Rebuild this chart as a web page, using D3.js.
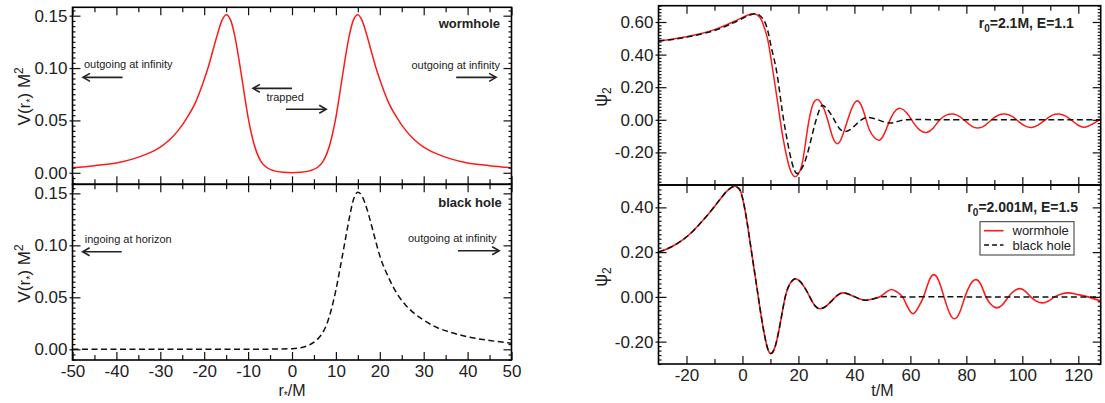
<!DOCTYPE html>
<html><head><meta charset="utf-8">
<script src="https://cdn.jsdelivr.net/npm/d3@7/dist/d3.min.js"></script>
<style>
body{margin:0;background:#fff;}
svg{display:block;font-family:"Liberation Sans",Arial,Helvetica,sans-serif;}
</style></head><body>
<svg id="c" width="1105" height="403"></svg>
<script>
// ---------------- DATA ----------------
// Potential V(r*) M^2 : wormhole (two peaks) and black hole (one peak)
const rWH = [-50,-45,-40,-36,-33,-30,-28,-26,-24,-22,-20,-19,-18,-17,-16,-15,-14,-13,-12,-11,-10,-9,-8,-7,-6,-4,-2,0,2,4,6,7,8,9,10,11,12,13,14,15,16,17,18,19,20,22,24,26,28,30,33,36,40,45,50];
const vWH = [0.0048,0.0068,0.0093,0.0135,0.018,0.0245,0.031,0.040,0.052,0.067,0.089,0.102,0.117,0.132,0.145,0.151,0.146,0.130,0.106,0.079,0.053,0.033,0.019,0.0105,0.0058,0.0018,0.0004,0,0.0004,0.0018,0.0058,0.0105,0.019,0.033,0.053,0.079,0.106,0.130,0.146,0.151,0.145,0.132,0.117,0.102,0.089,0.067,0.052,0.040,0.031,0.0245,0.018,0.0135,0.0093,0.0068,0.0048];
const rBH = [-50,-30,-15,-8,-4,0,2,4,5,6,7,8,9,10,11,12,13,14,15,16,17,18,19,20,22,24,26,28,30,33,36,40,45,50];
const vBH = [0,0,0,0.00005,0.0002,0.0006,0.0015,0.0042,0.0068,0.0105,0.016,0.025,0.039,0.057,0.079,0.102,0.125,0.144,0.151,0.147,0.136,0.121,0.105,0.090,0.069,0.053,0.042,0.034,0.028,0.021,0.0165,0.012,0.0085,0.0058];

// Waveforms psi_2(t/M), r0=2.1M, E=1.1
const tTopWH = [-30,-25,-20,-15,-10,-6,-3,0,2,3.8,5.2,6.8,8,9.2,10.9,12.7,14.5,16.3,17.5,18.7,19.9,21.1,22.3,23.5,24.8,25.8,26.8,28,30,32.2,34.2,36,37.8,39.6,41.5,43.5,45.3,47.2,49.2,51.2,53,54.8,56.5,58.8,61.2,63.5,65.8,68.2,70.5,73,75.3,77.6,79.8,82,84.2,86.6,89,91.4,93.8,96.2,98.5,100.9,103.3,105.6,108,110.6,113.2,115.5,117.8,120.1,122.4,125.2,128];
const psiTopWH = [0.484,0.494,0.510,0.528,0.553,0.580,0.603,0.628,0.643,0.650,0.643,0.612,0.555,0.478,0.297,0.092,-0.113,-0.262,-0.325,-0.349,-0.335,-0.285,-0.170,-0.030,0.075,0.115,0.125,0.105,0.025,-0.105,-0.145,-0.085,0.010,0.090,0.113,0.040,-0.060,-0.110,-0.123,-0.065,0.010,0.058,0.070,0.040,-0.020,-0.065,-0.078,-0.050,0.000,0.030,0.035,0.020,-0.010,-0.040,-0.050,-0.035,0.000,0.028,0.035,0.022,-0.008,-0.037,-0.047,-0.033,-0.003,0.027,0.035,0.022,-0.006,-0.035,-0.045,-0.025,0.004];
const tTopBH = [-30,-25,-20,-15,-10,-6,-3,0,2,4.4,6,7.5,9,10.5,12.2,13.9,15,16.3,17.8,19.3,20.8,22.3,23.8,25.2,26.5,27.7,28.8,30.5,32.4,34.5,36.6,38.5,40.5,42.5,44.9,48.5,52.7,56.5,62,70,90,128];
const psiTopBH = [0.484,0.493,0.507,0.525,0.548,0.574,0.597,0.622,0.638,0.650,0.643,0.615,0.550,0.430,0.297,0.092,-0.030,-0.154,-0.270,-0.328,-0.310,-0.257,-0.170,-0.072,0.010,0.070,0.088,0.060,0.012,-0.050,-0.072,-0.060,-0.030,0.000,0.015,0.000,-0.020,-0.005,0.002,0,0,0];

// Waveforms psi_2(t/M), r0=2.001M, E=1.5 (common early part, then separate tails)
const tBotCommon = [-30,-27,-24,-21,-18,-15,-12,-9,-7,-5,-3,-1.5,-0.3,1.4,3.2,5,6.8,8.6,10,11.2,12.2,13.4,14.5,15.7,16.9,18,19.3,20.8,22.3,23.8,25.2,26.5,27.9,29.8,31.8,33.8,35.8,38,40.2,42.3,44.3,47];
const psiBotCommon = [0.200,0.214,0.233,0.258,0.290,0.330,0.373,0.420,0.452,0.479,0.494,0.487,0.458,0.353,0.204,0.055,-0.094,-0.213,-0.253,-0.238,-0.198,-0.125,-0.049,0.020,0.057,0.075,0.080,0.066,0.040,0.006,-0.027,-0.047,-0.053,-0.042,-0.019,0.006,0.018,0.012,0.000,-0.011,-0.015,-0.008];
const tBotWHTail = [49.3,51.5,53.3,55.2,57.2,59,61,62.9,64.7,66.6,68.4,70.2,72,73.9,75.7,77.6,79.5,81.4,83.3,85.2,87,88.9,90.8,92.9,95,97,99.1,101,103,105,107.1,109.3,111.5,114,116.4,119.2,123.5,128];
const psiBotWHTail = [0.002,0.022,0.033,0.022,0.000,-0.045,-0.075,-0.045,0.000,0.070,0.0995,0.070,0.000,-0.070,-0.098,-0.070,0.000,0.055,0.077,0.055,0.000,-0.035,-0.049,-0.035,0.000,0.026,0.037,0.026,0.000,-0.019,-0.027,-0.019,0.000,0.013,0.018,0.012,0.000,-0.019];
const tBotBHTail = [49.5,53,57,62,80,128];
const psiBotBHTail = [0,0.002,-0.001,0,0,0];

const tBotWH = tBotCommon.concat(tBotWHTail), psiBotWH = psiBotCommon.concat(psiBotWHTail);
const tBotBH = tBotCommon.concat(tBotBHTail), psiBotBH = psiBotCommon.concat(psiBotBHTail);

// Tick values
const xMajorPot = [-50,-40,-30,-20,-10,0,10,20,30,40,50];
const xMinorPot = [-45,-35,-25,-15,-5,5,15,25,35,45];
const yMajorPot = [0,0.05,0.10,0.15];
const xMajorWave = [-20,0,20,40,60,80,100,120];
const xMinorWave = [-10,10,30,50,70,90,110];
const yMajorWaveTop = [-0.2,0,0.2,0.4,0.6];
const yMajorWaveBot = [-0.2,0,0.2,0.4];

// ---------------- DRAW ----------------
const svg = d3.select("#c");
const FONT = '"Liberation Sans",Arial,Helvetica,sans-serif';
const RED = "#ff1a1a";

function makePanel(px0, px1, py0, py1, xd, yd, id) {
  const x = d3.scaleLinear().domain(xd).range([px0, px1]);
  const y = d3.scaleLinear().domain(yd).range([py1, py0]);
  svg.append("clipPath").attr("id", id).append("rect")
    .attr("x", px0).attr("y", py0).attr("width", px1 - px0).attr("height", py1 - py0);
  return {x, y, px0, px1, py0, py1, id};
}

function axisG(gen, tx, ty, vals, size, fmt, pad) {
  const g = svg.append("g").attr("transform", `translate(${tx},${ty})`);
  g.call(gen.tickValues(vals).tickSize(size).tickPadding(pad || 3).tickFormat(fmt || (() => "")));
  g.select(".domain").remove();
  g.attr("font-family", FONT).attr("font-size", 17);
  g.selectAll("line").attr("stroke", "#111").attr("stroke-width", 1.2);
  g.selectAll("text").attr("fill", "#222");
  return g;
}

function frameAxes(p, o) {
  const {x, y} = p;
  const minorY = o.yMinor;
  // bottom
  axisG(d3.axisBottom(x), 0, p.py1, o.xMinor, -5);
  axisG(d3.axisBottom(x), 0, p.py1, o.xMajor, -8, o.xLabels ? (d => String(d)) : null, 4.5);
  // top
  axisG(d3.axisTop(x), 0, p.py0, o.xMinor, -5);
  axisG(d3.axisTop(x), 0, p.py0, o.xMajor, -8);
  // left
  axisG(d3.axisLeft(y), p.px0, 0, minorY, -3);
  const gl = axisG(d3.axisLeft(y), p.px0, 0, o.yMajorAll, -8, null);
  gl.selectAll("line").attr("x1", -3);
  const glab = axisG(d3.axisLeft(y), p.px0, 0, o.yLabeled, 0, d => d.toFixed(2), 5);
  glab.selectAll("line").remove();
  // right
  axisG(d3.axisRight(y), p.px1, 0, minorY, -3);
  axisG(d3.axisRight(y), p.px1, 0, o.yMajorAll, -8);
  // frame
  svg.append("rect").attr("x", p.px0).attr("y", p.py0)
    .attr("width", p.px1 - p.px0).attr("height", p.py1 - p.py0)
    .attr("fill", "none").attr("stroke", "#000").attr("stroke-width", 1.6);
}

function series(p, xs, ys, color, dash, curve, w) {
  const line = d3.line().x((d, i) => p.x(xs[i])).y((d, i) => p.y(ys[i])).curve(curve);
  svg.append("path").datum(xs).attr("d", line)
    .attr("clip-path", `url(#${p.id})`)
    .attr("fill", "none").attr("stroke", color).attr("stroke-width", w || 1.5)
    .attr("stroke-dasharray", dash || null).attr("stroke-linejoin", "round");
}

function txt(xp, yp, s, anchor, size, bold) {
  return svg.append("text").attr("x", xp).attr("y", yp).attr("text-anchor", anchor || "start")
    .attr("font-size", size || 11).attr("font-weight", bold ? "bold" : "normal")
    .attr("fill", "#222").attr("font-family", FONT).text(s);
}

function arrow(xTail, xHead, yp) {
  const dir = xHead > xTail ? 1 : -1;
  svg.append("line").attr("x1", xTail).attr("x2", xHead - dir * 1).attr("y1", yp).attr("y2", yp)
    .attr("stroke", "#222").attr("stroke-width", 1.6);
  svg.append("path").attr("d", `M${xHead - dir * 7},${yp - 4}L${xHead},${yp}L${xHead - dir * 7},${yp + 4}`)
    .attr("fill", "none").attr("stroke", "#222").attr("stroke-width", 1.6);
}

const yMinorPot = d3.range(-2, 32).filter(i => i % 10 !== 0).map(i => i * 0.005);
const yMinorTop = d3.range(-20, 36).filter(i => i % 10 !== 0).map(i => i * 0.02);
const yMinorBot = d3.range(-15, 26).filter(i => i % 10 !== 0).map(i => i * 0.02);

// Panels
const P1 = makePanel(72.5, 511.5, 7.3, 184.3, [-50, 50], [-0.011, 0.158], "c1");
const P2 = makePanel(72.5, 511.5, 184.3, 360, [-50, 50], [-0.0103, 0.1587], "c2");
const P3 = makePanel(658.5, 1100.7, 5.7, 185, [-30, 128], [-0.40, 0.70], "c3");
const P4 = makePanel(658.5, 1100.7, 185, 364, [-30, 128], [-0.30, 0.50], "c4");

// curves
series(P1, rWH, vWH, RED, null, d3.curveMonotoneX);
series(P2, rBH, vBH, "#111", "6,3.5", d3.curveMonotoneX);
series(P3, tTopWH, psiTopWH, RED, null, d3.curveNatural);
series(P3, tTopBH, psiTopBH, "#111", "6,3.5", d3.curveNatural);
series(P4, tBotWH, psiBotWH, RED, null, d3.curveNatural, 1.6);
series(P4, tBotBH, psiBotBH, "#111", "6,3.5", d3.curveNatural);

frameAxes(P1, {xMajor: xMajorPot, xMinor: xMinorPot, xLabels: false, yMinor: yMinorPot, yMajorAll: yMajorPot, yLabeled: yMajorPot});
frameAxes(P2, {xMajor: xMajorPot, xMinor: xMinorPot, xLabels: true, yMinor: yMinorPot, yMajorAll: yMajorPot, yLabeled: yMajorPot});
frameAxes(P3, {xMajor: xMajorWave, xMinor: xMinorWave, xLabels: false, yMinor: yMinorTop, yMajorAll: yMajorWaveTop, yLabeled: yMajorWaveTop});
frameAxes(P4, {xMajor: xMajorWave, xMinor: xMinorWave, xLabels: true, yMinor: yMinorBot, yMajorAll: yMajorWaveBot, yLabeled: yMajorWaveBot});

// ---- annotations: left top ----
txt(P1.x(47.4), P1.y(0.138), "wormhole", "end", 13, true);
txt(P1.x(-47.4), P1.y(0.0996), "outgoing at infinity", "start", 11);
arrow(P1.x(-38.6), P1.x(-47.6), P1.y(0.0911));
txt(P1.x(-5.8), P1.y(0.069), "trapped", "start", 11);
arrow(P1.x(0), P1.x(-8.9), P1.y(0.0806));
arrow(P1.x(-1.4), P1.x(7.8), P1.y(0.0606));
txt(P1.x(47.4), P1.y(0.099), "outgoing at infinity", "end", 11);
arrow(P1.x(37.4), P1.x(46.5), P1.y(0.0911));

// ---- annotations: left bottom ----
txt(P2.x(47.8), P2.y(0.1373), "black hole", "end", 13, true);
txt(P2.x(-47.2), P2.y(0.1027), "ingoing at horizon", "start", 11);
arrow(P2.x(-38.8), P2.x(-47.7), P2.y(0.0938));
txt(P2.x(46.6), P2.y(0.1032), "outgoing at infinity", "end", 11);
arrow(P2.x(37.8), P2.x(47.2), P2.y(0.0948));

// ---- annotations: right panels ----
function r0label(p, xv, yv, a) {
  const t = svg.append("text").attr("x", p.x(xv)).attr("y", p.y(yv)).attr("text-anchor", "end")
    .attr("font-size", 14).attr("font-weight", "bold").attr("fill", "#222").attr("font-family", FONT);
  t.append("tspan").text("r");
  t.append("tspan").attr("font-size", 10).attr("dy", 4).text("0");
  t.append("tspan").attr("dy", -4).text(a);
}
r0label(P3, 118.4, 0.561, "=2.1M, E=1.1");
r0label(P4, 119.9, 0.379, "=2.001M, E=1.5");

// legend
const lg = svg.append("g");
lg.append("rect").attr("x", 980).attr("y", 221.7).attr("width", 94).attr("height", 33.3)
  .attr("fill", "#fff").attr("stroke", "#333").attr("stroke-width", 1);
lg.append("line").attr("x1", 984).attr("x2", 1003.5).attr("y1", 230.7).attr("y2", 230.7)
  .attr("stroke", RED).attr("stroke-width", 1.6);
lg.append("line").attr("x1", 984).attr("x2", 1003.5).attr("y1", 245).attr("y2", 245)
  .attr("stroke", "#111").attr("stroke-width", 1.5).attr("stroke-dasharray", "5,3");
txt(1012.5, 235.3, "wormhole", "start", 13);
txt(1012.5, 249.6, "black hole", "start", 13);

// ---- axis titles ----
function vLabel(yc) {
  const t = svg.append("text").attr("transform", `translate(30,${yc}) rotate(-90)`)
    .attr("text-anchor", "middle").attr("font-size", 17).attr("fill", "#222").attr("font-family", FONT);
  t.append("tspan").text("V(r");
  t.append("tspan").attr("font-size", 11).attr("dy", 4).text("*");
  t.append("tspan").attr("dy", -4).text(") M");
  t.append("tspan").attr("font-size", 12).attr("dy", -7).text("2");
}
vLabel(P1.y(0.073));
vLabel(P2.y(0.073));

function psiLabel(yc) {
  const t = svg.append("text").attr("transform", `translate(607,${yc}) rotate(-90)`)
    .attr("text-anchor", "middle").attr("font-size", 18).attr("fill", "#222").attr("font-family", FONT);
  t.append("tspan").text("ψ");
  t.append("tspan").attr("font-size", 12).attr("dy", 4).text("2");
}
psiLabel(97);
psiLabel(277);

const xl = svg.append("text").attr("x", P2.x(0)).attr("y", 396).attr("text-anchor", "middle")
  .attr("font-size", 16).attr("fill", "#222").attr("font-family", FONT);
xl.append("tspan").text("r");
xl.append("tspan").attr("font-size", 10).attr("dy", 3).text("*");
xl.append("tspan").attr("dy", -3).text("/M");

txt(P4.x(50), 396, "t/M", "middle", 16);
</script>
</body></html>
